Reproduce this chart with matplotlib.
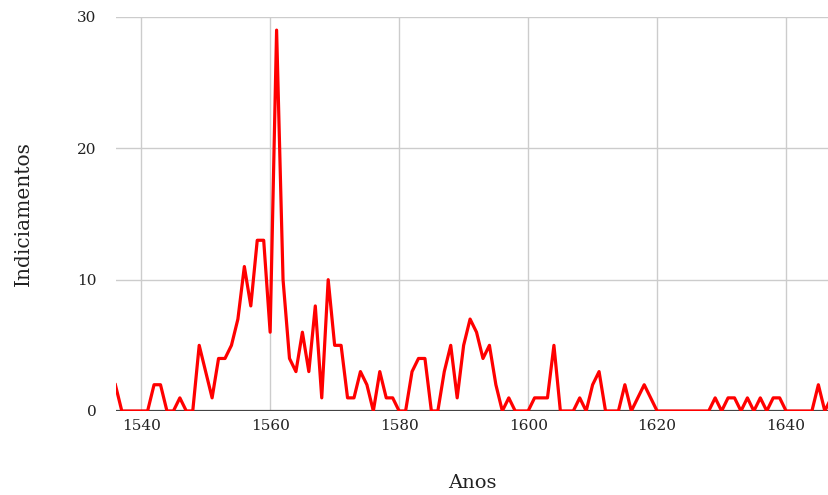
import matplotlib
matplotlib.use("Agg")
import matplotlib.pyplot as plt

# anos e numero de indiciamentos
anos = list(range(1536, 1648))
indiciamentos = [
    2, 0, 0, 0, 0, 0, 2, 2, 0, 0,      # 1536-1545
    1, 0, 0, 5, 3, 1, 4, 4, 5, 7,      # 1546-1555
    11, 8, 13, 13, 6, 29, 10, 4, 3, 6, # 1556-1565
    3, 8, 1, 10, 5, 5, 1, 1, 3, 2,     # 1566-1575
    0, 3, 1, 1, 0, 0, 3, 4, 4, 0,      # 1576-1585
    0, 3, 5, 1, 5, 7, 6, 4, 5, 2,      # 1586-1595
    0, 1, 0, 0, 0, 1, 1, 1, 5, 0,      # 1596-1605
    0, 0, 1, 0, 2, 3, 0, 0, 0, 2,      # 1606-1615
    0, 1, 2, 1, 0, 0, 0, 0, 0, 0,      # 1616-1625
    0, 0, 0, 1, 0, 1, 1, 0, 1, 0,      # 1626-1635
    1, 0, 1, 1, 0, 0, 0, 0, 0, 2,      # 1636-1645
    0, 1,                              # 1646-1647
]
xticks = [1540, 1560, 1580, 1600, 1620, 1640]
yticks = [0, 10, 20, 30]

plt.rcParams["font.family"] = ["DejaVu Serif"]

fig = plt.figure(figsize=(8.29, 4.95), dpi=100)
ax = fig.add_axes([116 / 829, 84 / 495, 713 / 829, 394 / 495])

ax.plot(anos, indiciamentos, color="#ff0000", linewidth=2.3, zorder=3)

ax.set_xlim(1536.1, 1646.65)
ax.set_ylim(0, 30)
ax.set_xticks(xticks)
ax.set_yticks(yticks)
ax.grid(True, color="#cccccc", linewidth=1)
ax.set_axisbelow(True)
ax.axhline(0, color="#444444", linewidth=1.6, zorder=2)
for s in ax.spines.values():
    s.set_visible(False)
ax.tick_params(axis="both", length=0, labelsize=11, colors="#222222")
ax.tick_params(axis="y", pad=14)
ax.tick_params(axis="x", pad=6)

ax.set_xlabel("Anos", fontsize=14, labelpad=29, color="#222222")
ax.set_ylabel("Indiciamentos", fontsize=14.5, labelpad=32, color="#222222")

plt.savefig("out.png", dpi=100)
